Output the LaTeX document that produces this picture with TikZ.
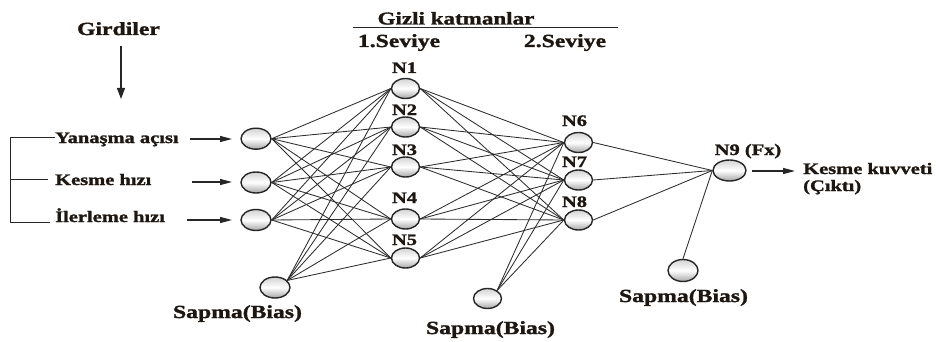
\documentclass[tikz,border=0pt]{standalone}
\usepackage{fontspec}
\setmainfont{Liberation Serif}[FakeStretch=1.28,BoldFeatures={FakeBold=1.5}]
\usetikzlibrary{shapes.geometric,arrows.meta}
\definecolor{txt}{RGB}{30,22,16}
\definecolor{ln}{RGB}{45,45,45}
\begin{document}
\begin{tikzpicture}[x=1pt,y=-1pt,
  neuron/.style={ellipse,draw=black!85,line width=1.4pt,inner sep=0pt,
    minimum width=28pt,minimum height=20pt,
    top color=gray!35,bottom color=gray!70,middle color=white},
  bigneuron/.style={neuron,minimum width=30pt,minimum height=21pt},
  lbl/.style={inner sep=0pt,anchor=base,text=txt,font=\bfseries\fontsize{16}{18}\selectfont},
  big/.style={lbl,font=\bfseries\fontsize{18.5}{20}\selectfont},
  conn/.style={draw=ln,line width=0.85pt},
  arr/.style={draw=black!85,line width=1.3pt,-{Triangle[length=12pt,width=6pt]}}]
\useasboundingbox (0,0) rectangle (936,342);
% titles
\node[big] (gir) at (118.5,35) {Girdiler};
\coordinate (girs) at (121,46);
\coordinate (gire) at (121,99);
\draw[arr,-{Triangle[length=11pt,width=8pt]}] (girs) -- (gire);
\node[big,font=\bfseries\fontsize{18}{20}\selectfont] (gizli) at (456,24.5) {Gizli katmanlar};
\coordinate (ul1) at (353,27.5);
\coordinate (ul2) at (618,27.5);
\draw[line width=1pt,black!85] (ul1) -- (ul2);
\node[big] (sev1) at (399,47) {1.Seviye};
\node[big] (sev2) at (565,47) {2.Seviye};
% input neurons
\node[bigneuron] (i1) at (256,138.7) {};
\node[bigneuron] (i2) at (256,182.5) {};
\node[bigneuron] (i3) at (256,220) {};
\node[bigneuron] (b1) at (275,287.5) {};
% hidden 1
\node[neuron] (n1) at (405.5,88.5) {};
\node[neuron] (n2) at (405.5,127) {};
\node[neuron] (n3) at (405.5,167) {};
\node[neuron] (n4) at (405.5,219) {};
\node[neuron] (n5) at (405.5,258) {};
\node[neuron] (b2) at (487.5,298.5) {};
% hidden 2
\node[neuron] (n6) at (578.5,142.5) {};
\node[neuron] (n7) at (578.5,180) {};
\node[neuron] (n8) at (578.5,220) {};
% output
\node[neuron,minimum width=33pt,minimum height=21pt] (n9) at (729.5,170.5) {};
\node[neuron,minimum width=30pt,minimum height=22pt] (b3) at (683,270.5) {};
% neuron labels
\node[lbl] (l1) at (404.5,73) {N1};
\node[lbl] (l2) at (404.5,115) {N2};
\node[lbl] (l3) at (404.5,155) {N3};
\node[lbl] (l4) at (404.5,203) {N4};
\node[lbl] (l5) at (404.5,245) {N5};
\node[lbl] (l6) at (574.5,126) {N6};
\node[lbl] (l7) at (574.5,167) {N7};
\node[lbl] (l8) at (574.5,207) {N8};
\node[lbl] (l9) at (748,155) {N9 (Fx)};
% bias labels
\node[big] (s1) at (237.5,318) {Sapma(Bias)};
\node[big] (s2) at (490.5,334) {Sapma(Bias)};
\node[big] (s3) at (683.5,302) {Sapma(Bias)};
% input labels
\node[lbl,anchor=base west] (y1) at (55,143) {Yanaşma açısı};
\node[lbl,anchor=base west] (y2) at (55,185) {Kesme hızı};
\node[lbl,anchor=base west] (y3) at (55,222) {İlerleme hızı};
\coordinate (a1) at (190,139);
\coordinate (a2) at (192,182);
\coordinate (a3) at (187,220);
\coordinate (a1e) at (232,139);
\coordinate (a2e) at (232,182);
\coordinate (a3e) at (232,220);
\draw[arr] (a1) -- (a1e);
\draw[arr] (a2) -- (a2e);
\draw[arr] (a3) -- (a3e);
% bracket
\coordinate (k1) at (10,137);
\coordinate (k1e) at (55,137);
\coordinate (k2) at (10,179);
\coordinate (k2e) at (48,179);
\coordinate (k3) at (10,222);
\coordinate (k3e) at (50,222);
\draw[line width=1pt,black!85] (k1e) -- (k1) -- (k3) -- (k3e);
\draw[line width=1pt,black!85] (k2) -- (k2e);
% connections
\foreach \a in {i1,i2,i3}
  \foreach \b in {n1,n2,n3,n4,n5}
    \draw[conn] (\a.east) -- (\b.west);
\foreach \b in {n1,n2,n3,n4,n5}
  \draw[conn] (b1.30) -- (\b.west);
\foreach \a in {n1,n2,n3,n4,n5}
  \foreach \b in {n6,n7,n8}
    \draw[conn] (\a.east) -- (\b.west);
\foreach \b in {n6,n7,n8}
  \draw[conn] (b2.40) -- (\b.west);
\foreach \a in {n6,n7,n8}
  \draw[conn] (\a.east) -- (n9.west);
\draw[conn] (b3.north) -- (n9.west);
% output
\coordinate (os) at (752,171);
\coordinate (oe) at (795,171);
\draw[arr] (os) -- (oe);
\node[lbl,anchor=base west] (o1) at (803,174) {Kesme kuvveti};
\node[lbl,anchor=base west] (o2) at (803,191) {(Çıktı)};
\end{tikzpicture}
\end{document}
